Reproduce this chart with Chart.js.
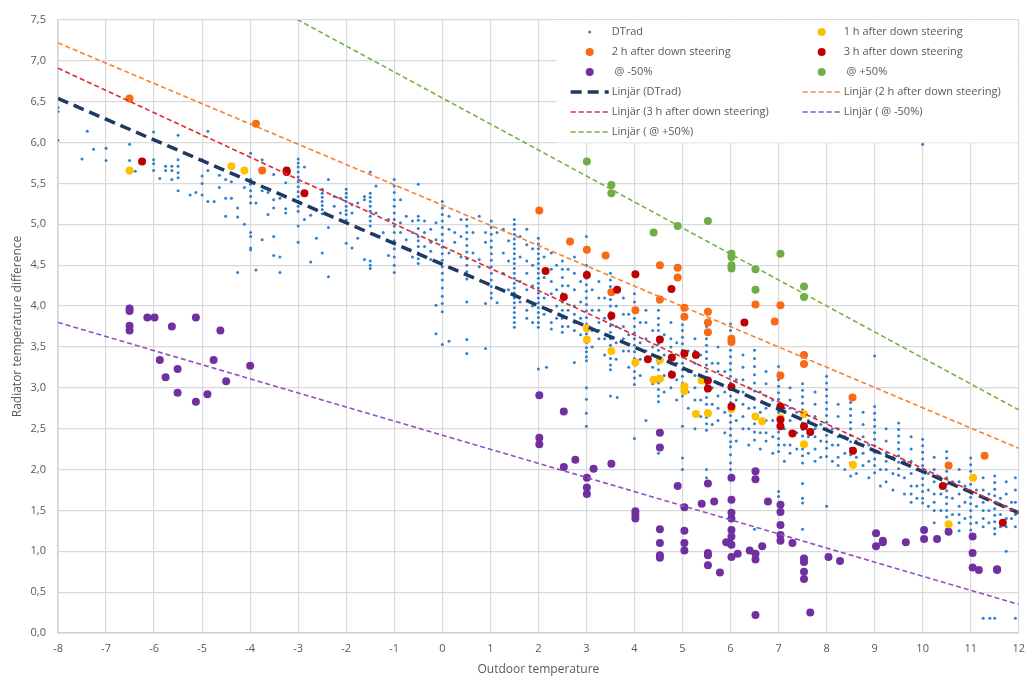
<!DOCTYPE html>
<html>
<head>
<meta charset="utf-8">
<script src="https://cdn.jsdelivr.net/npm/chart.js@4.4.1/dist/chart.umd.min.js"></script>
<style>
    html, body { margin: 0; padding: 0; background: #fff; }
    #wrap { width: 1034px; height: 677px; }
</style>
</head>
<body>
<div id="wrap"><canvas id="chart" width="1034" height="677"></canvas></div>
<script>
// ─── Axis ranges ───
const X_MIN = -8, X_MAX = 12;
const Y_MIN = 0, Y_MAX = 7.5;

// ─── DTrad measurements, grouped by outdoor temperature: [x, [y...]] ───
const dtradCold = [
    [-8, [6.43, 6.38, 6.03]], [-7.5, [5.80]], [-7.39, [6.14]], [-7.26, [5.92]],
    [-7.0, [5.93, 5.78]], [-6.51, [5.98, 5.78]], [-6.39, [5.65]],
    [-6.01, [6.13, 5.79, 5.74, 5.66]], [-5.88, [5.56]], [-5.76, [5.71, 5.66]],
    [-5.63, [5.71, 5.66, 5.55]], [-5.5, [6.09, 5.79, 5.71, 5.63, 5.57, 5.41]],
    [-5.25, [5.36]], [-5.13, [5.39]], [-5.0, [5.79, 5.59, 5.50, 5.36]],
    [-4.88, [6.14, 5.66, 5.28]], [-4.75, [5.28]], [-4.64, [5.45, 5.60]],
    [-4.51, [5.55, 5.32, 5.10]], [-4.39, [5.32, 5.52]], [-4.26, [5.20, 5.09, 4.41]],
    [-4.12, [5.45, 5.00]], [-3.99, [5.87, 5.55, 5.49, 5.41, 5.34, 5.26, 4.90, 4.85, 4.71, 4.69]],
    [-3.88, [5.26, 4.44]], [-3.75, [5.79, 5.41, 4.81]], [-3.63, [5.39, 5.12]],
    [-3.51, [5.61, 5.30, 5.20, 4.85, 4.62]], [-3.38, [5.32, 4.60, 4.41]],
    [-3.26, [5.51, 5.19, 5.14]]
];

const dtradMild = [
    [-3.0, [5.80, 5.75, 5.70, 5.64, 5.58, 5.52, 5.46, 5.40, 5.34, 5.28, 5.22, 5.16, 4.98, 4.78]],
    [-2.87, [5.70, 5.39, 5.06]], [-2.74, [5.11, 4.54]], [-2.62, [4.83]],
    [-2.5, [5.43, 5.38, 5.33, 5.28, 5.23, 5.18, 5.13, 4.65]], [-2.37, [5.55, 4.96, 4.36]],
    [-2.25, [5.34, 5.22]], [-2.12, [5.32, 5.14]],
    [-2.0, [5.43, 5.38, 5.33, 5.28, 5.22, 5.17, 5.12, 5.05, 4.77]],
    [-1.88, [5.24, 5.14, 4.71]], [-1.76, [5.26, 4.83]], [-1.62, [5.34, 5.30, 4.57]],
    [-1.5, [5.64, 5.38, 5.33, 5.28, 5.22, 5.16, 5.10, 5.04, 4.98, 4.55, 4.50, 4.46]],
    [-1.38, [5.47, 5.14]], [-1.23, [4.90]], [-1.12, [5.06, 4.62]],
    [-1.0, [5.55, 5.47, 5.39, 5.30, 5.22, 5.14, 5.06, 4.98, 4.90, 4.80, 4.70, 4.60, 4.50, 4.41]],
    [-0.87, [5.30, 5.02, 4.90]], [-0.75, [5.10, 4.81, 4.70]], [-0.62, [5.04, 4.90, 4.60]],
    [-0.5, [5.49, 5.10, 5.05, 4.95, 4.85, 4.80, 4.73, 4.65, 4.58, 4.52]],
    [-0.37, [5.04, 4.90, 4.73]], [-0.24, [4.94, 4.78, 4.67, 4.57]], [-0.13, [5.02, 4.81, 4.01, 3.66]],
    [0, [5.28, 5.20, 5.12, 5.04, 4.96, 4.88, 4.80, 4.72, 4.64, 4.56, 4.48, 4.40, 4.32, 4.22, 4.12, 4.03, 3.93, 3.53]],
    [0.14, [5.10, 4.94, 4.65, 3.57]], [0.26, [4.90, 4.78]], [0.39, [5.06, 4.85, 4.60]],
    [0.51, [5.06, 4.98, 4.90, 4.82, 4.74, 4.66, 4.58, 4.50, 4.42, 4.33, 4.05, 3.59, 3.42]],
    [0.64, [4.90, 4.65]], [0.77, [5.10, 4.57, 4.48]], [0.9, [4.90, 4.78, 4.03, 3.48]],
    [1.02, [5.04, 4.96, 4.88, 4.80, 4.72, 4.64, 4.56, 4.48, 4.40, 4.32, 4.24, 4.16, 4.10]],
    [1.14, [4.90, 4.04]], [1.27, [4.94, 4.65, 4.40]], [1.38, [4.80, 4.55, 4.20]]
];

const dtradWarm = [
    [1.5, [5.06, 5.00, 4.94, 4.88, 4.82, 4.76, 4.70, 4.64, 4.58, 4.52, 4.46, 4.40, 4.34, 4.28, 4.22, 4.16, 4.10, 4.04, 3.98, 3.92, 3.86, 3.80, 3.74]],
    [1.76, [4.94, 4.75, 4.55, 4.40, 4.20, 3.95, 3.85]],
    [2.0, [4.83, 4.76, 4.70, 4.64, 4.58, 4.52, 4.46, 4.40, 4.34, 4.28, 4.22, 4.16, 4.10, 4.04, 3.98, 3.92, 3.86, 3.80, 3.74, 3.23]],
    [2.17, [3.25]], [2.27, [4.65, 4.45, 4.30, 4.15, 3.95, 3.80, 3.72]],
    [2.5, [4.55, 4.45, 4.35, 4.25, 4.15, 4.05, 3.95, 3.85, 3.75, 3.68]],
    [2.75, [4.60, 4.40, 4.20, 4.00, 3.90, 3.80, 3.70, 3.31]],
    [3.0, [4.85, 4.50, 4.42, 4.34, 4.26, 4.18, 4.10, 4.02, 3.94, 3.86, 3.78, 3.71, 3.66, 3.60, 3.55, 3.49, 3.44, 3.38, 3.33, 3.00, 2.86, 2.69, 2.53]],
    [3.26, [4.30, 4.10, 3.95, 3.80, 3.70, 3.60]],
    [3.5, [4.40, 4.32, 4.24, 4.16, 4.08, 4.00, 3.92, 3.84, 3.76, 3.68, 3.60, 3.52, 3.44, 3.36, 3.28, 3.22, 2.90]],
    [3.64, [2.88]], [3.77, [4.10, 3.90, 3.75, 3.60, 3.45]],
    [4.0, [4.15, 4.05, 3.95, 3.85, 3.75, 3.67, 3.60, 3.52, 3.44, 3.36, 3.28, 3.20, 3.12, 3.04, 2.38]],
    [4.24, [3.95, 3.80, 3.60, 3.45, 3.35, 2.60]],
    [4.5, [4.05, 3.95, 3.85, 3.77, 3.70, 3.62, 3.54, 3.46, 3.38, 3.30, 3.22, 3.14, 3.06, 2.98, 2.90, 2.83, 2.20]],
    [4.76, [3.80, 3.60, 3.50, 3.30, 3.20, 3.00]],
    [5.0, [3.85, 3.77, 3.70, 3.62, 3.54, 3.46, 3.38, 3.30, 3.22, 3.14, 3.06, 2.98, 2.90, 2.53, 2.14, 2.00]],
    [5.26, [3.60, 3.45, 3.30, 3.15, 3.00, 2.85, 2.50]],
    [5.5, [3.75, 3.68, 3.60, 3.52, 3.44, 3.36, 3.28, 3.20, 3.12, 3.04, 2.96, 2.88, 2.80, 2.72, 2.64, 2.56, 2.48, 2.00, 1.90]],
    [5.74, [3.50, 3.30, 3.20, 3.05, 2.90, 2.75, 2.60]]
];

const dtradHot = [
    [6.0, [3.78, 3.70, 3.62, 3.54, 3.46, 3.38, 3.30, 3.22, 3.14, 3.06, 2.98, 2.90, 2.82, 2.74, 2.66, 2.58, 2.50, 2.42, 2.34, 2.28, 2.18, 2.08, 2.00]],
    [6.26, [3.40, 3.25, 3.10, 2.95, 2.80, 2.65, 2.50]],
    [6.5, [3.46, 3.36, 3.26, 3.16, 3.06, 2.96, 2.86, 2.76, 2.66, 2.56, 2.46, 2.36, 1.27]],
    [6.74, [3.20, 3.05, 2.90, 2.75, 2.60, 2.45, 2.35]],
    [7.0, [3.26, 3.18, 3.10, 3.02, 2.94, 2.86, 2.78, 2.70, 2.62, 2.54, 2.46, 2.38, 2.30, 2.22, 1.73, 1.67]],
    [7.24, [3.00, 2.85, 2.75, 2.60, 2.45, 2.30, 2.20]],
    [7.5, [3.05, 2.97, 2.89, 2.81, 2.73, 2.65, 2.57, 2.49, 2.41, 2.33, 2.25, 2.17, 2.08, 1.83, 1.65, 1.59, 1.27]],
    [7.76, [2.95, 2.80, 2.65, 2.50, 2.40, 2.25, 2.10]],
    [8.0, [3.14, 3.06, 2.98, 2.90, 2.82, 2.74, 2.66, 2.58, 2.50, 2.42, 2.34, 2.26, 2.16, 1.55]],
    [8.24, [2.80, 2.65, 2.50, 2.40, 2.30, 2.15, 2.05]],
    [8.5, [2.90, 2.82, 2.74, 2.66, 2.58, 2.50, 2.42, 2.34, 2.26, 2.18, 2.08, 1.92]],
    [8.76, [2.70, 2.55, 2.40, 2.30, 2.20, 2.05]],
    [9.0, [3.39, 2.77, 2.69, 2.61, 2.53, 2.45, 2.37, 2.29, 2.21, 2.13, 2.05, 1.96]],
    [9.24, [2.50, 2.35, 2.20, 2.10, 2.00, 1.85]],
    [9.5, [2.57, 2.49, 2.41, 2.33, 2.25, 2.17, 2.09, 2.01, 1.93]],
    [9.76, [2.40, 2.25, 2.10, 1.95, 1.80, 1.70, 1.60]],
    [10.0, [5.98, 2.37, 2.29, 2.21, 2.13, 2.05, 1.97, 1.89, 1.81, 1.73, 1.65, 1.59]],
    [10.24, [2.15, 2.00, 1.85, 1.70, 1.60, 1.50, 1.35]],
    [10.5, [2.22, 2.14, 2.06, 1.98, 1.90, 1.82, 1.74, 1.66, 1.58, 1.50, 1.42, 1.34, 1.27]],
    [10.76, [2.00, 1.85, 1.70, 1.55, 1.45, 1.35, 1.25]],
    [11.0, [2.14, 2.06, 1.98, 1.90, 1.82, 1.74, 1.66, 1.58, 1.50, 1.42, 1.34, 1.26]],
    [11.26, [1.90, 1.75, 1.60, 1.50, 1.40, 1.30, 0.18]], [11.4, [0.18]],
    [11.5, [1.92, 1.84, 1.76, 1.68, 1.60, 1.52, 1.44, 1.36, 1.28, 1.21, 0.18]],
    [11.74, [1.85, 1.70, 1.55, 1.40, 1.30, 1.00]],
    [11.93, [1.90, 1.75, 1.60, 1.45, 1.30, 0.18]]
];

// scattered readings between the half-degree columns
const dtradScatter = [
    [1.62, [4.85, 4.60, 4.30, 4.05]], [1.88, [4.70, 4.50, 4.25, 4.00, 3.80]],
    [2.12, [4.60, 4.35, 4.10, 3.90]], [2.38, [4.50, 4.20, 4.00, 3.85]],
    [2.62, [4.45, 4.25, 3.95, 3.75]], [2.88, [4.30, 4.05, 3.85, 3.65]],
    [3.12, [4.20, 3.95, 3.70, 3.50]], [3.38, [4.10, 3.85, 3.60, 3.40]],
    [3.62, [4.00, 3.75, 3.55, 3.35]], [3.88, [3.90, 3.65, 3.45, 3.25]],
    [4.12, [3.80, 3.55, 3.35, 3.15]], [4.38, [3.70, 3.50, 3.25, 3.05]],
    [4.62, [3.65, 3.40, 3.15, 2.95]], [4.88, [3.55, 3.30, 3.10, 2.85]],
    [5.12, [3.45, 3.20, 2.95, 2.75]], [5.38, [3.40, 3.10, 2.85, 2.65]],
    [5.62, [3.30, 3.00, 2.80, 2.55]], [5.88, [3.20, 2.95, 2.70, 2.45]],
    [6.12, [3.10, 2.85, 2.60, 2.35]], [6.38, [3.00, 2.75, 2.50, 2.30]],
    [6.62, [2.95, 2.70, 2.45, 2.25]], [6.88, [2.85, 2.60, 2.40, 2.20]],
    [7.12, [2.75, 2.50, 2.30, 2.10]], [7.38, [2.70, 2.45, 2.25]],
    [7.62, [2.60, 2.40, 2.20]], [7.88, [2.55, 2.35, 2.15]],
    [8.12, [2.50, 2.30, 2.10]], [8.38, [2.40, 2.20, 2.00]],
    [8.62, [2.35, 2.15, 1.95]], [8.88, [2.30, 2.10, 1.90]],
    [9.12, [2.20, 2.00, 1.80]], [9.38, [2.15, 1.95, 1.75]],
    [9.62, [2.10, 1.90, 1.70]], [9.88, [2.00, 1.80, 1.65]],
    [10.12, [1.95, 1.75, 1.55]], [10.38, [1.90, 1.70, 1.50]],
    [10.62, [1.85, 1.65, 1.45]], [10.88, [1.80, 1.60, 1.40]],
    [11.12, [1.75, 1.55, 1.35]], [11.38, [1.70, 1.50, 1.35]],
    [11.62, [1.65, 1.45, 1.30]], [11.85, [1.60, 1.50, 1.40]]
];

// ─── Down steering series: [x, y] ───
const oneHour = [
    [-6.51, 5.66], [-4.39, 5.71], [-4.12, 5.66], [3.01, 3.73], [3.01, 3.59], [3.52, 3.45],
    [4.02, 3.31], [4.40, 3.10], [4.53, 3.11], [4.53, 3.34], [5.04, 3.02], [5.04, 2.96],
    [5.40, 3.09], [5.28, 2.68], [5.53, 2.69], [6.02, 2.74], [6.52, 2.65], [6.66, 2.59],
    [7.04, 2.63], [7.53, 2.68], [7.53, 2.31], [8.55, 2.06], [10.54, 1.33], [11.05, 1.90]
];
const twoHour = [
    [-6.51, 6.54], [-3.88, 6.23], [-3.75, 5.66], [2.02, 5.17], [2.66, 4.79], [3.01, 4.69],
    [3.40, 4.62], [4.53, 4.50], [4.90, 4.47], [4.90, 4.35], [3.52, 4.17], [4.53, 4.08],
    [4.02, 3.95], [5.04, 3.98], [5.04, 3.87], [5.53, 3.93], [5.53, 3.80], [5.53, 3.68],
    [6.02, 3.60], [6.02, 3.56], [6.52, 4.02], [7.04, 4.01], [6.92, 3.81], [7.04, 3.15],
    [7.53, 3.40], [7.53, 3.29], [8.54, 2.88], [10.54, 2.05], [11.29, 2.17]
];
const threeHour = [
    [-6.25, 5.77], [-3.24, 5.66], [-3.24, 5.64], [-2.87, 5.38], [2.15, 4.43], [2.53, 4.11],
    [3.01, 4.38], [3.52, 3.88], [3.64, 4.20], [4.02, 4.39], [4.77, 4.21], [4.53, 3.59],
    [4.28, 3.35], [4.78, 3.37], [4.78, 3.16], [5.04, 3.42], [5.28, 3.40], [5.53, 3.09],
    [5.53, 2.99], [6.29, 3.80], [6.02, 3.01], [6.02, 2.77], [7.04, 2.77], [7.04, 2.61],
    [7.04, 2.53], [7.29, 2.44], [7.53, 2.53], [7.66, 2.46], [8.55, 2.23], [10.42, 1.80],
    [11.67, 1.35]
];
const minus50 = [
    [-6.51, 3.97], [-6.51, 3.94], [-6.51, 3.76], [-6.51, 3.70], [-6.14, 3.86], [-5.99, 3.86],
    [-5.63, 3.75], [-5.13, 3.86], [-4.62, 3.70], [-5.88, 3.34], [-4.76, 3.34], [-5.51, 3.23],
    [-5.76, 3.13], [-4.0, 3.27], [-4.5, 3.08], [-5.51, 2.94], [-4.89, 2.92], [-5.13, 2.83],
    [2.02, 2.91], [2.53, 2.71], [2.02, 2.39], [2.02, 2.31], [2.77, 2.12], [2.53, 2.03],
    [3.15, 2.01], [3.52, 2.07], [3.01, 1.90], [3.01, 1.78], [3.01, 1.70], [4.53, 2.45],
    [4.53, 2.27], [4.90, 1.80], [5.53, 1.83], [4.02, 1.49], [4.02, 1.45], [4.02, 1.40],
    [4.53, 1.27], [4.53, 1.10], [4.53, 0.95], [4.53, 0.92], [5.04, 1.54], [5.04, 1.25],
    [5.04, 1.10], [5.04, 1.01], [5.40, 1.58], [5.66, 1.61], [5.53, 0.98], [5.53, 0.95],
    [5.53, 0.83], [6.02, 1.90], [6.02, 1.63], [6.02, 1.47], [6.02, 1.40], [6.02, 1.26],
    [6.02, 1.18], [5.91, 1.11], [5.98, 1.10], [6.02, 1.08], [6.02, 0.93], [6.15, 0.97],
    [5.78, 0.74], [6.40, 1.01], [6.52, 0.97], [6.52, 0.90], [6.66, 1.06], [6.78, 1.61],
    [6.52, 1.98], [6.52, 1.88], [7.04, 1.57], [7.04, 1.48], [7.04, 1.32], [7.04, 1.20],
    [7.04, 1.13], [7.29, 1.10], [7.53, 0.91], [7.53, 0.87], [7.53, 0.75], [7.53, 0.66],
    [6.52, 0.22], [7.66, 0.25], [8.04, 0.93], [8.28, 0.88], [9.03, 1.22], [9.03, 1.06],
    [9.17, 1.13], [9.17, 1.11], [9.65, 1.11], [10.03, 1.26], [10.03, 1.15], [10.30, 1.15],
    [10.54, 1.24], [11.04, 1.18], [11.04, 0.98], [11.04, 0.80], [11.17, 0.77], [11.55, 0.78],
    [11.55, 0.77]
];
const plus50 = [
    [3.01, 5.77], [3.52, 5.48], [3.52, 5.38], [4.40, 4.90], [4.90, 4.98], [5.53, 5.04],
    [6.02, 4.64], [6.02, 4.60], [6.02, 4.50], [6.02, 4.46], [6.52, 4.45], [6.52, 4.20],
    [7.04, 4.64], [7.53, 4.24], [7.53, 4.11]
];

// ─── Linear trendlines (value at x = -8, slope per degree) ───
const trendStart = [6.54, 7.22, 6.91, 3.80, 9.09];
const trendSlope = [-0.2535, -0.248, -0.272, -0.1725, -0.318];

// ─── Helpers ───
const fromCols = cols => cols.flatMap(([x, ys]) => ys.map(y => ({ x, y })));
const fromPairs = pairs => pairs.map(([x, y]) => ({ x, y }));
const trendData = i => [X_MIN, X_MAX].map(x => ({ x, y: trendStart[i] + trendSlope[i] * (x - X_MIN) }));
const fmtComma = v => v.toFixed(1).replace('.', ',');

function pointSet(label, data, color, order) {
    return {
        label, data: fromPairs(data), order,
        backgroundColor: color, borderColor: color, borderWidth: 0,
        pointRadius: 4, pointHoverRadius: 4, legendKind: 'dot'
    };
}

function trendSet(label, i, color, width, dash, order) {
    return {
        label, data: trendData(i), order, showLine: true,
        borderColor: color, borderWidth: width, borderDash: dash,
        pointRadius: 0, pointHoverRadius: 0, fill: false, legendKind: 'line'
    };
}

// ─── Two-column legend in the top right of the plot ───
const boxLegend = {
    id: 'boxLegend',
    afterDatasetsDraw(chart) {
        const { ctx, chartArea } = chart;
        const left = chartArea.right - 462, top = chartArea.top + 0.5;
        ctx.save();
        ctx.fillStyle = '#ffffff';
        ctx.fillRect(left, top, 461, 122);
        ctx.font = "11px 'Open Sans', sans-serif";
        ctx.textBaseline = 'middle';
        chart.data.datasets.forEach((ds, i) => {
            const col = i % 2, row = Math.floor(i / 2);
            const x0 = left + (col === 0 ? 14 : 246);
            const y = top + 11.5 + row * 20;
            if (ds.legendKind === 'dot') {
                ctx.beginPath();
                ctx.fillStyle = ds.backgroundColor;
                ctx.arc(x0 + 19, y, ds.pointRadius, 0, Math.PI * 2);
                ctx.fill();
            } else {
                ctx.beginPath();
                ctx.strokeStyle = ds.borderColor;
                ctx.lineWidth = ds.borderWidth;
                ctx.setLineDash(ds.borderDash);
                ctx.moveTo(x0, y);
                ctx.lineTo(x0 + 38, y);
                ctx.stroke();
                ctx.setLineDash([]);
            }
            ctx.fillStyle = '#595959';
            ctx.fillText(ds.label, x0 + 41, y);
        });
        ctx.restore();
    }
};

// ─── Chart ───
Chart.defaults.font.family = "'Open Sans', sans-serif";
Chart.defaults.font.size = 11;
Chart.defaults.color = '#595959';

const dtrad = {
    label: 'DTrad',
    data: fromCols([...dtradCold, ...dtradMild, ...dtradWarm, ...dtradHot, ...dtradScatter]),
    order: 20,
    backgroundColor: '#2f80d1', borderWidth: 0,
    pointRadius: 1.5, pointHoverRadius: 1.5, legendKind: 'dot'
};

new Chart(document.getElementById('chart'), {
    type: 'scatter',
    data: {
        datasets: [
            dtrad,
            pointSet('1 h after down steering', oneHour, '#ffc000', 14),
            pointSet('2 h after down steering', twoHour, '#f96a16', 13),
            pointSet('3 h after down steering', threeHour, '#c00000', 12),
            pointSet(' @ -50%', minus50, '#7030a0', 15),
            pointSet(' @ +50%', plus50, '#70ad47', 11),
            trendSet('Linjär (DTrad)', 0, '#1f3864', 3.5, [11, 6], 6),
            trendSet('Linjär (2 h after down steering)', 1, '#f7812f', 1.6, [5, 3], 5),
            trendSet('Linjär (3 h after down steering)', 2, '#e3262b', 1.6, [5, 3], 4),
            trendSet('Linjär ( @ -50%)', 3, '#9150c8', 1.6, [5, 3], 3),
            trendSet('Linjär ( @ +50%)', 4, '#76b342', 1.6, [5, 3], 2)
        ]
    },
    options: {
        responsive: false,
        animation: false,
        layout: { padding: { top: 20, right: 9, left: 0, bottom: 0 } },
        plugins: { legend: { display: false }, tooltip: { enabled: false } },
        scales: {
            x: {
                type: 'linear', min: X_MIN, max: X_MAX,
                grid: { color: '#d9d9d9', lineWidth: 1.2, drawTicks: false },
                border: { color: '#d0d0d0', width: 1.5 },
                ticks: { stepSize: 1, padding: 9, callback: v => String(v) },
                title: { display: true, text: 'Outdoor temperature', font: { size: 12 }, padding: 0 },
                afterFit: s => { s.height = 44; }
            },
            y: {
                min: Y_MIN, max: Y_MAX,
                grid: { color: '#d9d9d9', lineWidth: 1.2, drawTicks: false },
                border: { color: '#d0d0d0', width: 1.5 },
                ticks: { stepSize: 0.5, padding: 12, callback: v => fmtComma(v) },
                title: { display: true, text: 'Radiator temperature difference', font: { size: 12 }, padding: { top: 10, bottom: 0 } },
                afterFit: s => { s.width = 58; }
            }
        }
    },
    plugins: [boxLegend]
});
</script>
</body>
</html>
